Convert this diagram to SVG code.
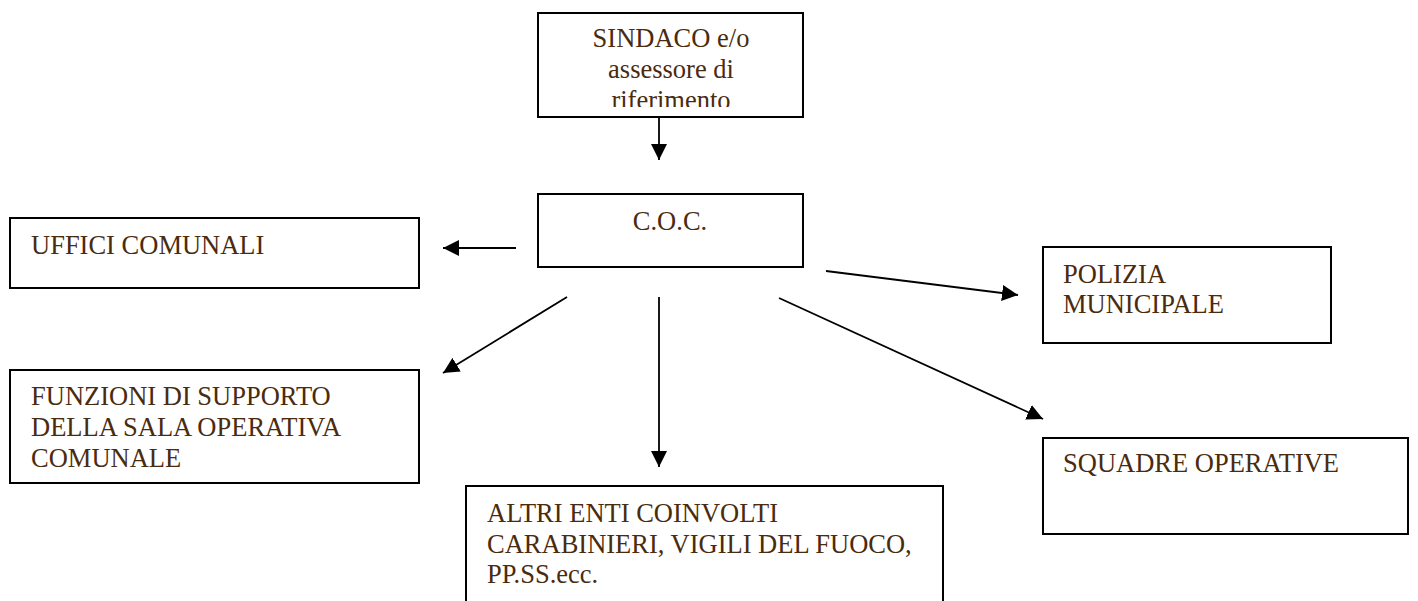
<svg xmlns="http://www.w3.org/2000/svg" width="1418" height="601" viewBox="0 0 1418 601">
<style>
.box{fill:#fff;stroke:#000;stroke-width:2}
.t{font-family:"Liberation Serif","Times New Roman",Times,serif;font-size:26.5px;fill:#4a2b0e}
.c{stroke:#000;stroke-width:1.8;fill:none;marker-end:url(#ah)}
</style>
<defs>
<marker id="ah" markerUnits="userSpaceOnUse" markerWidth="16" markerHeight="16" viewBox="0 0 15 15" refX="15" refY="7.5" orient="auto">
<path d="M0,0 L15,7.5 L0,15 Z" fill="#000"/>
</marker>
<clipPath id="clipS"><rect x="539" y="14" width="263" height="93"/></clipPath>
</defs>
<rect width="1418" height="601" fill="#fff"/>
<g id="sindaco">
<rect class="box" x="538" y="13" width="265" height="104"/>
<g clip-path="url(#clipS)">
<text class="t" font-family="Liberation Serif, serif" text-anchor="middle" x="671" y="47">SINDACO e/o</text>
<text class="t" font-family="Liberation Serif, serif" text-anchor="middle" x="671" y="78">assessore di</text>
<text class="t" font-family="Liberation Serif, serif" text-anchor="middle" x="671" y="109">riferimento</text>
</g>
</g>
<g id="coc">
<rect class="box" x="538" y="194" width="265" height="73"/>
<text class="t" text-anchor="middle" x="670" y="230">C.O.C.</text>
</g>
<g id="uffici">
<rect class="box" x="10" y="218" width="409" height="70"/>
<text class="t" x="31" y="254">UFFICI COMUNALI</text>
</g>
<g id="funzioni">
<rect class="box" x="10" y="370" width="409" height="113"/>
<text class="t" x="31" y="405">FUNZIONI DI SUPPORTO</text>
<text class="t" x="31" y="436">DELLA SALA OPERATIVA</text>
<text class="t" x="31" y="467">COMUNALE</text>
</g>
<g id="altri">
<rect class="box" x="466" y="486" width="477" height="130"/>
<text class="t" x="487" y="522">ALTRI ENTI COINVOLTI</text>
<text class="t" x="487" y="553">CARABINIERI, VIGILI DEL FUOCO,</text>
<text class="t" x="487" y="583">PP.SS.ecc.</text>
</g>
<g id="polizia">
<rect class="box" x="1043" y="247" width="288" height="96"/>
<text class="t" x="1063" y="283">POLIZIA</text>
<text class="t" x="1063" y="313">MUNICIPALE</text>
</g>
<g id="squadre">
<rect class="box" x="1043" y="438" width="365" height="96"/>
<text class="t" x="1063" y="472">SQUADRE OPERATIVE</text>
</g>
<g id="connectors">
<line class="c" x1="659" y1="117" x2="659" y2="160"/>
<line class="c" x1="516" y1="248" x2="443" y2="248"/>
<line class="c" x1="567" y1="297" x2="443" y2="373"/>
<line class="c" x1="659" y1="297" x2="659" y2="467"/>
<line class="c" x1="826" y1="271" x2="1018" y2="295"/>
<line class="c" x1="779" y1="298" x2="1043" y2="419"/>
</g>
</svg>
